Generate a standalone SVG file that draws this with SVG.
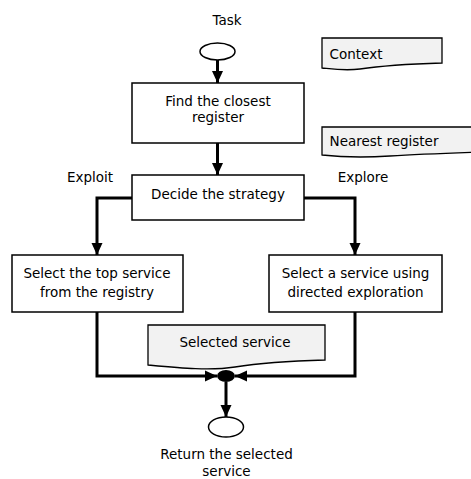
<svg xmlns="http://www.w3.org/2000/svg" width="471" height="479" viewBox="0 0 471 479">
  <style>
    text { font-family: "DejaVu Sans", "Liberation Sans", sans-serif; font-size: 13.5px; fill: #000; text-anchor: middle; }
    .box { fill: #fff; stroke: #000; stroke-width: 1.5; }
    .doc { fill: #f2f2f2; stroke: #000; stroke-width: 1.3; }
    .term { fill: #fff; stroke: #000; stroke-width: 1.5; }
    .flow { fill: none; stroke: #000; stroke-width: 3; }
  </style>
  <defs>
    <marker id="arrow" markerUnits="userSpaceOnUse" markerWidth="12" markerHeight="12" viewBox="0 0 12 12" refX="12" refY="6" orient="auto">
      <path d="M0,0.5 L12,6 L0,11.5 Z" fill="#000"/>
    </marker>
  </defs>

  <!-- start terminal -->
  <g id="start">
    <text x="227" y="25">Task</text>
    <ellipse class="term" cx="217.5" cy="51.5" rx="17.5" ry="8.5"/>
  </g>

  <!-- data documents -->
  <g id="context">
    <path class="doc" d="M322,38 H442 V63 C410,64 380,66 360,69 C345,71 332,69 322,68 Z"/>
    <text x="356" y="59">Context</text>
  </g>
  <g id="nearest-register">
    <path class="doc" d="M322,127 H480 V152 C450,153 420,154 390,156 C360,158 340,157 322,155 Z"/>
    <text x="384" y="146">Nearest register</text>
  </g>

  <g id="find-register">
    <rect class="box" x="132" y="83" width="172" height="60"/>
    <text x="218" y="106">Find the closest</text>
    <text x="218" y="122">register</text>
  </g>

  <g id="decide">
    <rect class="box" x="132" y="175" width="172" height="45"/>
    <text x="218" y="199">Decide the strategy</text>
  </g>

  <g id="labels">
    <text x="90" y="182">Exploit</text>
    <text x="363" y="182">Explore</text>
  </g>

  <g id="select-top">
    <rect class="box" x="12" y="255" width="171" height="57"/>
    <text x="97" y="278">Select the top service</text>
    <text x="97" y="297">from the registry</text>
  </g>

  <g id="select-explore">
    <rect class="box" x="269" y="255" width="173" height="57"/>
    <text x="355.5" y="278">Select a service using</text>
    <text x="355.5" y="297">directed exploration</text>
  </g>

  <g id="selected-service">
    <path class="doc" d="M148,325 H325 V360 C290,361 260,363 235,367 C210,371 180,368 148,365 Z"/>
    <text x="235" y="347">Selected service</text>
  </g>

  <!-- connectors -->
  <g id="connectors">
    <path class="flow" d="M217.5,60 V83" marker-end="url(#arrow)"/>
    <path class="flow" d="M217.5,143 V175" marker-end="url(#arrow)"/>
    <path class="flow" d="M132,198 H97 V255" marker-end="url(#arrow)"/>
    <path class="flow" d="M304,198 H355 V255" marker-end="url(#arrow)"/>
    <path class="flow" d="M97,312 V376 H217" marker-end="url(#arrow)"/>
    <path class="flow" d="M355,312 V376 H235" marker-end="url(#arrow)"/>
    <path class="flow" d="M226,382 V417" marker-end="url(#arrow)"/>
  </g>

  <g id="join">
    <ellipse cx="226" cy="376" rx="9" ry="6" fill="#000"/>
  </g>

  <g id="end">
    <ellipse class="term" cx="226" cy="427" rx="17.5" ry="10"/>
    <text x="226.5" y="459">Return the selected</text>
    <text x="226.5" y="476">service</text>
  </g>
</svg>
